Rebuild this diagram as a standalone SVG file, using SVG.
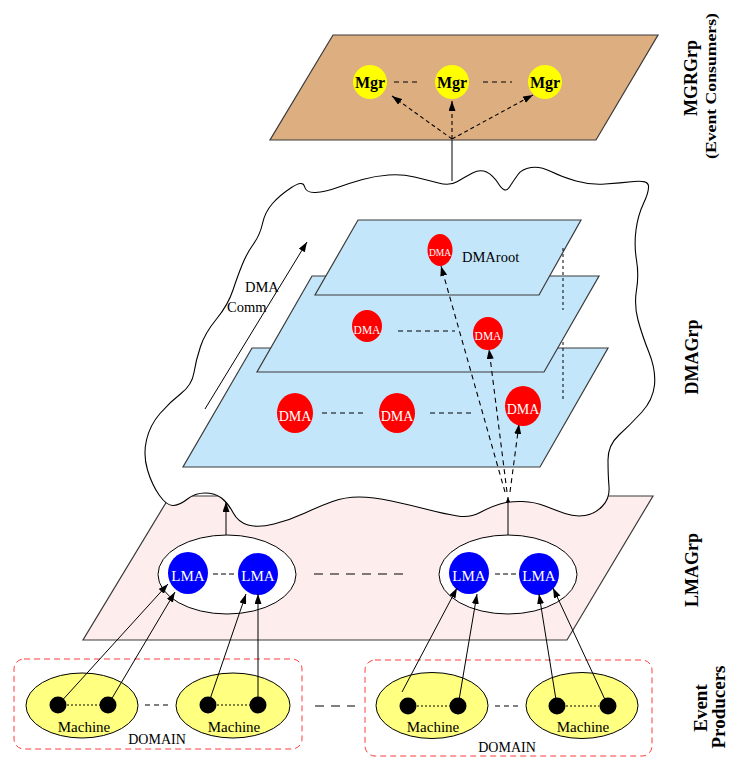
<svg xmlns="http://www.w3.org/2000/svg" width="730" height="759" viewBox="0 0 730 759">
<defs>
<marker id="ah" markerUnits="userSpaceOnUse" markerWidth="11" markerHeight="8" refX="10" refY="3.5" orient="auto"><path d="M0,0 L10,3.5 L0,7 z" fill="#000"/></marker>
<marker id="ahs" markerUnits="userSpaceOnUse" markerWidth="6" markerHeight="5" refX="5" refY="2" orient="auto"><path d="M0,0 L5,2 L0,4 z" fill="#000"/></marker>
<style>
.plane{stroke:#3a3a3a;stroke-width:1.2}
.t{font-family:"Liberation Serif","Times New Roman",serif}
.w{fill:#fff}
.lbl{font-family:"Liberation Serif","Times New Roman",serif;font-weight:bold;fill:#000;text-anchor:middle}
.c{stroke:#000;stroke-width:1;fill:none}
.d{stroke:#000;stroke-width:1.1;fill:none;stroke-dasharray:5,4}
.d43{stroke:#000;stroke-width:1.1;fill:none;stroke-dasharray:4,3}
.dsm{stroke:#000;stroke-width:1.1;fill:none;stroke-dasharray:5,3}
.dlg{stroke:#000;stroke-width:1.1;fill:none;stroke-dasharray:9,7}
.dot{stroke:#000;stroke-width:1;fill:none;stroke-dasharray:2,2}
.vdot{stroke:#000;stroke-width:1;fill:none;stroke-dasharray:3,3}
.dom{fill:none;stroke:#ff3c3c;stroke-width:1;stroke-dasharray:6,4}
</style>
</defs>
<rect width="730" height="759" fill="#fff"/>

<g id="lmaplane"><polygon class="plane" points="170,496 653,496 567,640 83,640" fill="#fdeeed"/></g>

<g id="cloud"><path fill="#fff" stroke="#000" stroke-width="1.1" d="M291.5,187.5 Q303,180 304.5,186.5 Q306,193 315.5,192.5 Q325,192 337.5,187.5 Q350,183 362.5,179.5 Q375,176 388.5,175 Q402,174 414.5,177 Q427,180 438.5,183 Q450,186 457.5,181.5 Q465,177 472.5,173 Q480,169 486.5,172 Q493,175 499,184.5 Q505,194 509.5,187 Q514,180 518,174.5 Q522,169 531,167.5 Q540,166 551,171.5 Q562,177 576,181 Q590,185 605,184 Q620,183 634,181.5 Q648,180 648.5,186 Q649,192 643.5,203.5 Q638,215 636,230 Q634,245 636.5,260 Q639,275 636.5,290 Q634,305 638,320 Q642,335 649,352.5 Q656,370 654.5,385 Q653,400 641.5,412.5 Q630,425 619,435 Q608,445 608,460 Q608,475 609,486.5 Q610,498 602.5,506 Q595,514 585,515.5 Q575,517 565,513.5 Q555,510 545,506 Q535,502 522.5,501.5 Q510,501 500,504 Q490,507 480,512.5 Q470,518 457.5,516 Q445,514 427.5,509.5 Q410,505 391.5,501 Q373,497 359,497 Q345,497 332.5,501.5 Q320,506 305,513 Q290,520 274,524 Q258,528 248,525 Q238,522 233,512.5 Q228,503 221.5,498 Q215,493 205,493 Q195,493 187.5,499 Q180,505 173.5,505.5 Q167,506 159.5,495.5 Q152,485 147.5,470 Q143,455 146.5,440 Q150,425 160,413.5 Q170,402 181,393.5 Q192,385 194,372.5 Q196,360 200.5,346.5 Q205,333 216.5,319 Q228,305 233,290 Q238,275 242.5,264 Q247,253 253.5,244 Q260,235 262.5,223.5 Q265,212 272.5,203.5 Q280,195 291.5,187.5 Z"/></g>

<g id="mgrplane"><polygon class="plane" points="333,35 658,35 596,140 270,140" fill="#dcae80"/></g>

<g id="dmaplane-bottom"><polygon class="plane" points="252,348 608,348 540,467 183,467" fill="#c4e6fb"/></g>
<g id="dmaplane-middle"><polygon class="plane" points="312,276 599,276 544,372 257,372" fill="#c4e6fb"/></g>
<g id="dmaplane-top"><polygon class="plane" points="358,220 581,220 539,295 315,295" fill="#c4e6fb"/></g>

<g id="connectors">
<line class="vdot" x1="563" y1="248" x2="563" y2="310"/>
<line class="vdot" x1="563" y1="342" x2="563" y2="400"/>
<line x1="452" y1="140" x2="452" y2="181" stroke="#000" stroke-width="1"/>
<line class="d43" x1="452" y1="139" x2="392" y2="96" marker-end="url(#ah)"/>
<line class="d43" x1="452" y1="139" x2="452" y2="101" marker-end="url(#ah)"/>
<line class="d43" x1="452" y1="139" x2="533" y2="95" marker-end="url(#ah)"/>
<line x1="394" y1="82" x2="418" y2="82" class="d"/>
<line x1="483" y1="82" x2="512" y2="82" class="d"/>
<line class="c" x1="205" y1="409" x2="307" y2="242" marker-end="url(#ah)"/>
<line class="d" x1="505" y1="492" x2="441" y2="266" marker-end="url(#ah)"/>
<line class="d" x1="507" y1="492" x2="489" y2="349" marker-end="url(#ah)"/>
<line class="d" x1="510" y1="492" x2="519" y2="424" marker-end="url(#ah)"/>
<line class="d" x1="398" y1="331" x2="455" y2="331"/>
<line class="d" x1="322" y1="413" x2="367" y2="413"/>
<line class="d" x1="430" y1="413" x2="475" y2="413"/>
<line class="c" x1="226" y1="535" x2="226" y2="502" marker-end="url(#ah)"/>
<line class="c" x1="508" y1="535" x2="508" y2="497" marker-end="url(#ahs)"/>
<line class="dlg" x1="314" y1="574" x2="405" y2="574"/>
<line class="d" x1="145" y1="705" x2="168" y2="705"/>
<line class="d" x1="495" y1="706" x2="518" y2="706"/>
<line class="dlg" x1="315" y1="706" x2="355" y2="706"/>
</g>

<g id="lma-group-left"><ellipse cx="227" cy="574.5" rx="69" ry="39.5" fill="#fff" stroke="#000" stroke-width="1"/>
<line class="dsm" x1="213" y1="574" x2="236" y2="574"/></g>
<g id="lma-group-right"><ellipse cx="508" cy="574.5" rx="69" ry="39.5" fill="#fff" stroke="#000" stroke-width="1"/>
<line class="dsm" x1="495" y1="574" x2="516" y2="574"/></g>

<g id="mgr1"><circle cx="370" cy="82" r="17" fill="#ffff00"/><text class="t" x="370" y="88" font-size="16" font-weight="bold" text-anchor="middle">Mgr</text></g>
<g id="mgr2"><circle cx="452" cy="82" r="17" fill="#ffff00"/><text class="t" x="452" y="88" font-size="16" font-weight="bold" text-anchor="middle">Mgr</text></g>
<g id="mgr3"><circle cx="545" cy="82" r="17" fill="#ffff00"/><text class="t" x="545" y="88" font-size="16" font-weight="bold" text-anchor="middle">Mgr</text></g>

<g id="dmaroot"><ellipse cx="440" cy="250" rx="12.5" ry="16" fill="#ff0000"/><text class="t w" x="440" y="256" font-size="9.5" text-anchor="middle">DMA</text>
<text class="t" x="462" y="262" font-size="14.5">DMAroot</text></g>
<g id="dma-m1"><ellipse cx="367" cy="326" rx="15" ry="16" fill="#ff0000"/><text class="t w" x="367" y="333.5" font-size="11.5" text-anchor="middle">DMA</text></g>
<g id="dma-m2"><ellipse cx="488" cy="333.5" rx="15" ry="16.5" fill="#ff0000"/><text class="t w" x="488" y="340" font-size="11.5" text-anchor="middle">DMA</text></g>
<g id="dma-b1"><ellipse cx="295" cy="413" rx="18" ry="20" fill="#ff0000"/><text class="t w" x="295" y="421" font-size="14" text-anchor="middle">DMA</text></g>
<g id="dma-b2"><ellipse cx="397" cy="413" rx="18" ry="20" fill="#ff0000"/><text class="t w" x="397" y="421" font-size="14" text-anchor="middle">DMA</text></g>
<g id="dma-b3"><ellipse cx="523" cy="406" rx="18" ry="20" fill="#ff0000"/><text class="t w" x="523" y="414" font-size="14" text-anchor="middle">DMA</text></g>

<g id="dmacomm"><text class="t" x="245" y="292" font-size="14.5">DMA</text><text class="t" x="227" y="312" font-size="14.5">Comm</text></g>

<g id="lma1"><ellipse cx="188" cy="573" rx="20" ry="21" fill="#0000ff"/><text class="t w" x="188" y="581" font-size="15" text-anchor="middle">LMA</text></g>
<g id="lma2"><ellipse cx="258" cy="574" rx="20" ry="21" fill="#0000ff"/><text class="t w" x="258" y="581" font-size="15" text-anchor="middle">LMA</text></g>
<g id="lma3"><ellipse cx="469" cy="573" rx="20" ry="21" fill="#0000ff"/><text class="t w" x="469" y="581" font-size="15" text-anchor="middle">LMA</text></g>
<g id="lma4"><ellipse cx="539" cy="574" rx="20" ry="21" fill="#0000ff"/><text class="t w" x="539" y="581" font-size="15" text-anchor="middle">LMA</text></g>

<g id="domain-left"><rect class="dom" x="14" y="659" width="288" height="90" rx="10"/><text class="t" x="157" y="744" font-size="14" text-anchor="middle">DOMAIN</text></g>
<g id="domain-right"><rect class="dom" x="365" y="660" width="287" height="96" rx="10"/><text class="t" x="507" y="751.5" font-size="14" text-anchor="middle">DOMAIN</text></g>

<g id="machine1"><ellipse cx="82" cy="705.5" rx="56" ry="32.5" fill="#ffff80" stroke="#000"/><line class="dot" x1="67" y1="705" x2="100" y2="705"/><circle cx="58" cy="705" r="8.5"/><circle cx="108" cy="705" r="8.5"/><text class="t" x="84" y="732" font-size="15" text-anchor="middle">Machine</text></g>
<g id="machine2"><ellipse cx="233" cy="705.5" rx="57" ry="32.5" fill="#ffff80" stroke="#000"/><line class="dot" x1="217" y1="705" x2="250" y2="705"/><circle cx="208" cy="705" r="8.5"/><circle cx="258" cy="705" r="8.5"/><text class="t" x="234" y="732" font-size="15" text-anchor="middle">Machine</text></g>
<g id="machine3"><ellipse cx="432" cy="705.5" rx="56" ry="33" fill="#ffff80" stroke="#000"/><line class="dot" x1="417" y1="706" x2="450" y2="706"/><circle cx="408" cy="706" r="8.5"/><circle cx="458" cy="706" r="8.5"/><text class="t" x="433" y="732" font-size="15" text-anchor="middle">Machine</text></g>
<g id="machine4"><ellipse cx="582" cy="705.5" rx="56" ry="33" fill="#ffff80" stroke="#000"/><line class="dot" x1="566" y1="706" x2="599" y2="706"/><circle cx="557" cy="706" r="8.5"/><circle cx="608" cy="706" r="8.5"/><text class="t" x="583" y="732" font-size="15" text-anchor="middle">Machine</text></g>

<g id="producer-links">
<line class="c" x1="58" y1="705" x2="168" y2="584" marker-end="url(#ah)"/>
<line class="c" x1="108" y1="705" x2="175" y2="592" marker-end="url(#ah)"/>
<line class="c" x1="208" y1="705" x2="246" y2="594" marker-end="url(#ah)"/>
<line class="c" x1="258" y1="705" x2="258" y2="594" marker-end="url(#ah)"/>
<line class="c" x1="402" y1="692" x2="457" y2="588" marker-end="url(#ah)"/>
<line class="c" x1="458" y1="706" x2="477" y2="594" marker-end="url(#ah)"/>
<line class="c" x1="557" y1="706" x2="539" y2="594" marker-end="url(#ah)"/>
<line class="c" x1="608" y1="706" x2="553" y2="588" marker-end="url(#ah)"/>
</g>

<g id="labels">
<text class="lbl" transform="translate(697,78) rotate(-90)" font-size="18">MGRGrp</text>
<text class="lbl" transform="translate(716,86) rotate(-90)" font-size="15" textLength="146" lengthAdjust="spacingAndGlyphs">(Event Consumers)</text>
<text class="lbl" transform="translate(698,357) rotate(-90)" font-size="18">DMAGrp</text>
<text class="lbl" transform="translate(698,570) rotate(-90)" font-size="18">LMAGrp</text>
<text class="lbl" transform="translate(707,708) rotate(-90)" font-size="19">Event</text>
<text class="lbl" transform="translate(725,707) rotate(-90)" font-size="19">Producers</text>
</g>
</svg>
